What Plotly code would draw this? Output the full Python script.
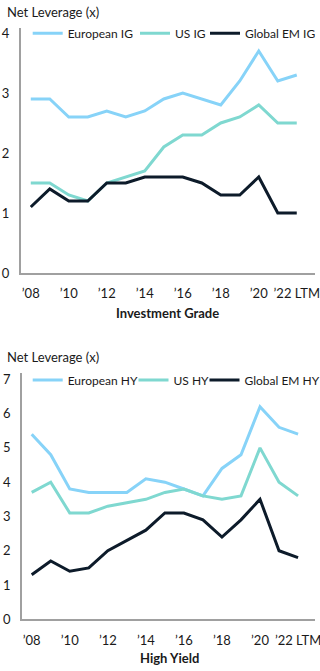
import plotly.graph_objects as go

years = list(range(2008, 2023))
tick_vals = [2008, 2010, 2012, 2014, 2016, 2018, 2020, 2022]
tick_text = ["’08", "’10", "’12", "’14", "’16", "’18", "’20", "’22 LTM"]

european_ig = [2.9, 2.9, 2.6, 2.6, 2.7, 2.6, 2.7, 2.9, 3.0, 2.9, 2.8, 3.2, 3.7, 3.2, 3.3]
us_ig = [1.5, 1.5, 1.3, 1.2, 1.5, 1.6, 1.7, 2.1, 2.3, 2.3, 2.5, 2.6, 2.8, 2.5, 2.5]
global_em_ig = [1.1, 1.4, 1.2, 1.2, 1.5, 1.5, 1.6, 1.6, 1.6, 1.5, 1.3, 1.3, 1.6, 1.0, 1.0]

european_hy = [5.4, 4.8, 3.8, 3.7, 3.7, 3.7, 4.1, 4.0, 3.8, 3.6, 4.4, 4.8, 6.2, 5.6, 5.4]
us_hy = [3.7, 4.0, 3.1, 3.1, 3.3, 3.4, 3.5, 3.7, 3.8, 3.6, 3.5, 3.6, 5.0, 4.0, 3.6]
global_em_hy = [1.3, 1.7, 1.4, 1.5, 2.0, 2.3, 2.6, 3.1, 3.1, 2.9, 2.4, 2.9, 3.5, 2.0, 1.8]

C_EU = "#87d3f8"
C_US = "#7fd8d0"
C_EM = "#0d1b2a"
FONT = "Lato, Roboto, sans-serif"
FS = 13
LFS = 12
TXT = "#1a1a1a"

W, H = 320, 671

fig = go.Figure()

def add(x, y, name, color, xa, ya, legend):
    fig.add_trace(go.Scatter(x=x, y=y, name=name, mode="lines",
                             line=dict(color=color, width=3),
                             xaxis=xa, yaxis=ya, legend=legend,
                             hoverinfo="skip"))

add(years, european_ig, "European IG", C_EU, "x", "y", "legend")
add(years, us_ig, "US IG", C_US, "x", "y", "legend2")
add(years, global_em_ig, "Global EM IG", C_EM, "x", "y", "legend3")
add(years, european_hy, "European HY", C_EU, "x2", "y2", "legend4")
add(years, us_hy, "US HY", C_US, "x2", "y2", "legend5")
add(years, global_em_hy, "Global EM HY", C_EM, "x2", "y2", "legend6")

xcommon = dict(tickmode="array", tickvals=tick_vals, ticktext=tick_text,
               showgrid=False, zeroline=False, showline=True, linecolor="#a0a0a0",
               linewidth=1.5, ticks="outside", ticklen=8, tickcolor="rgba(0,0,0,0)",
               ticklabeloverflow="allow",
               tickfont=dict(size=FS, color=TXT, family=FONT), fixedrange=True)
ycommon = dict(showgrid=False, zeroline=False, showline=True, linecolor="#a0a0a0",
               linewidth=1.5, ticks="outside", ticklen=7, tickcolor="rgba(0,0,0,0)",
               tickfont=dict(size=FS, color=TXT, family=FONT), dtick=1, tick0=0,
               fixedrange=True)

def leg(x_text, y_center):
    return dict(orientation="h", x=(x_text - 40) / W, xanchor="left",
                y=1 - y_center / H, yanchor="middle",
                font=dict(size=LFS, color=TXT, family=FONT),
                bgcolor="rgba(0,0,0,0)", borderwidth=0)

fig.update_layout(
    width=W, height=H, margin=dict(l=0, r=0, t=0, b=0, autoexpand=False),
    paper_bgcolor="white", plot_bgcolor="white",
    font=dict(family=FONT, size=FS, color=TXT),
    xaxis=dict(domain=[20.7 / W, 315 / W], range=[2007.47, 2022.96], anchor="y", **xcommon),
    yaxis=dict(domain=[1 - 273 / H, 1 - 28 / H], range=[0, 4.083], anchor="x", **ycommon),
    xaxis2=dict(domain=[22 / W, 315 / W], range=[2007.49, 2022.89], anchor="y2", **xcommon),
    yaxis2=dict(domain=[1 - 619.3 / H, 1 - 373.3 / H], range=[0, 7.175], anchor="x2", **ycommon),
    legend=leg(67.7, 33.3),
    legend2=leg(175, 33.3),
    legend3=leg(245, 33.3),
    legend4=leg(67.7, 380),
    legend5=leg(173.5, 380),
    legend6=leg(244.5, 380),
    showlegend=True,
)

for y in (12.3, 357.3):
    fig.add_annotation(xref="paper", yref="paper", x=5 / W, y=1 - y / H,
                       text="Net Leverage (x)", xanchor="left", yanchor="middle",
                       showarrow=False, font=dict(size=FS, color=TXT, family=FONT))

for text, x, y in [("<b>Investment Grade</b>", 167.7 / W, 1 - 312.7 / H),
                   ("<b>High Yield</b>", 169 / W, 1 - 658.3 / H)]:
    fig.add_annotation(xref="paper", yref="paper", x=x, y=y, text=text,
                       xanchor="center", yanchor="middle", showarrow=False,
                       font=dict(size=FS, color=TXT, family=FONT))

fig.write_html("out.html", config={"displayModeBar": False})
